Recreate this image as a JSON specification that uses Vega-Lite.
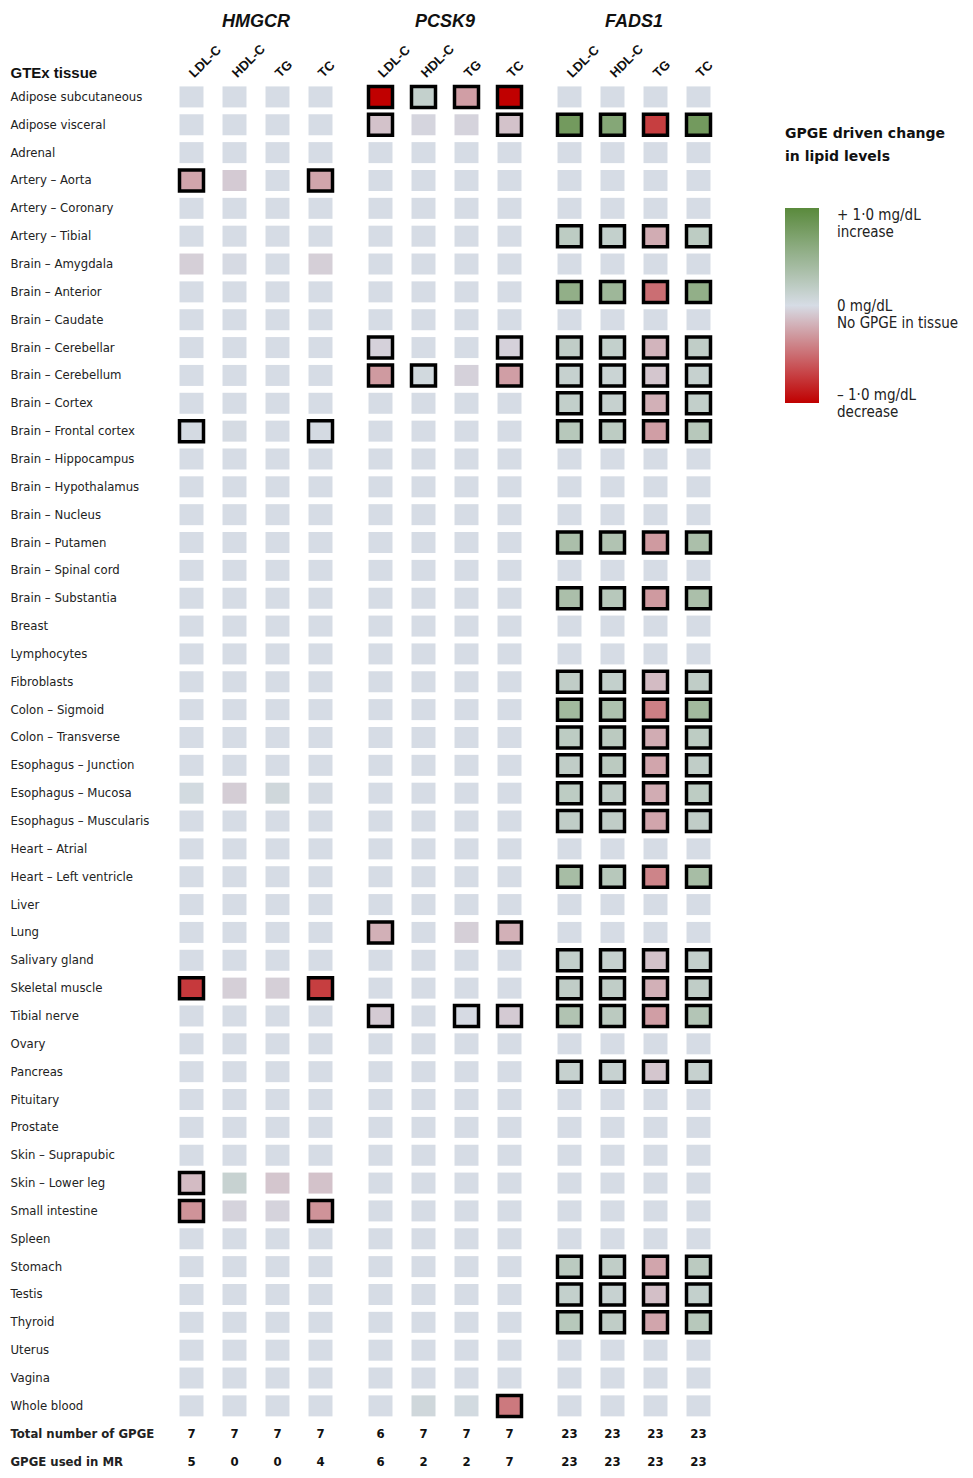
{
"$schema": "https://vega.github.io/schema/vega-lite/v6.json",
"background": "white",
"padding": {"left": 10, "top": 13, "right": 0, "bottom": 0},
"data": {"values": [
{"tissue":"Adipose subcutaneous","gene":"HMGCR","lipid":"LDL-C","value":0},
{"tissue":"Adipose subcutaneous","gene":"HMGCR","lipid":"HDL-C","value":0},
{"tissue":"Adipose subcutaneous","gene":"HMGCR","lipid":"TG","value":0},
{"tissue":"Adipose subcutaneous","gene":"HMGCR","lipid":"TC","value":0},
{"tissue":"Adipose subcutaneous","gene":"PCSK9","lipid":"LDL-C","value":-1,"mr":1},
{"tissue":"Adipose subcutaneous","gene":"PCSK9","lipid":"HDL-C","value":0.15,"mr":1},
{"tissue":"Adipose subcutaneous","gene":"PCSK9","lipid":"TG","value":-0.28,"mr":1},
{"tissue":"Adipose subcutaneous","gene":"PCSK9","lipid":"TC","value":-1,"mr":1},
{"tissue":"Adipose subcutaneous","gene":"FADS1","lipid":"LDL-C","value":0},
{"tissue":"Adipose subcutaneous","gene":"FADS1","lipid":"HDL-C","value":0},
{"tissue":"Adipose subcutaneous","gene":"FADS1","lipid":"TG","value":0},
{"tissue":"Adipose subcutaneous","gene":"FADS1","lipid":"TC","value":0},
{"tissue":"Adipose visceral","gene":"HMGCR","lipid":"LDL-C","value":0},
{"tissue":"Adipose visceral","gene":"HMGCR","lipid":"HDL-C","value":0},
{"tissue":"Adipose visceral","gene":"HMGCR","lipid":"TG","value":0},
{"tissue":"Adipose visceral","gene":"HMGCR","lipid":"TC","value":0},
{"tissue":"Adipose visceral","gene":"PCSK9","lipid":"LDL-C","value":-0.12,"mr":1},
{"tissue":"Adipose visceral","gene":"PCSK9","lipid":"HDL-C","value":-0.03},
{"tissue":"Adipose visceral","gene":"PCSK9","lipid":"TG","value":-0.04},
{"tissue":"Adipose visceral","gene":"PCSK9","lipid":"TC","value":-0.12,"mr":1},
{"tissue":"Adipose visceral","gene":"FADS1","lipid":"LDL-C","value":0.8,"mr":1},
{"tissue":"Adipose visceral","gene":"FADS1","lipid":"HDL-C","value":0.65,"mr":1},
{"tissue":"Adipose visceral","gene":"FADS1","lipid":"TG","value":-0.72,"mr":1},
{"tissue":"Adipose visceral","gene":"FADS1","lipid":"TC","value":0.8,"mr":1},
{"tissue":"Adrenal","gene":"HMGCR","lipid":"LDL-C","value":0},
{"tissue":"Adrenal","gene":"HMGCR","lipid":"HDL-C","value":0},
{"tissue":"Adrenal","gene":"HMGCR","lipid":"TG","value":0},
{"tissue":"Adrenal","gene":"HMGCR","lipid":"TC","value":0},
{"tissue":"Adrenal","gene":"PCSK9","lipid":"LDL-C","value":0},
{"tissue":"Adrenal","gene":"PCSK9","lipid":"HDL-C","value":0},
{"tissue":"Adrenal","gene":"PCSK9","lipid":"TG","value":0},
{"tissue":"Adrenal","gene":"PCSK9","lipid":"TC","value":0},
{"tissue":"Adrenal","gene":"FADS1","lipid":"LDL-C","value":0},
{"tissue":"Adrenal","gene":"FADS1","lipid":"HDL-C","value":0},
{"tissue":"Adrenal","gene":"FADS1","lipid":"TG","value":0},
{"tissue":"Adrenal","gene":"FADS1","lipid":"TC","value":0},
{"tissue":"Artery – Aorta","gene":"HMGCR","lipid":"LDL-C","value":-0.25,"mr":1},
{"tissue":"Artery – Aorta","gene":"HMGCR","lipid":"HDL-C","value":-0.08},
{"tissue":"Artery – Aorta","gene":"HMGCR","lipid":"TG","value":0},
{"tissue":"Artery – Aorta","gene":"HMGCR","lipid":"TC","value":-0.25,"mr":1},
{"tissue":"Artery – Aorta","gene":"PCSK9","lipid":"LDL-C","value":0},
{"tissue":"Artery – Aorta","gene":"PCSK9","lipid":"HDL-C","value":0},
{"tissue":"Artery – Aorta","gene":"PCSK9","lipid":"TG","value":0},
{"tissue":"Artery – Aorta","gene":"PCSK9","lipid":"TC","value":0},
{"tissue":"Artery – Aorta","gene":"FADS1","lipid":"LDL-C","value":0},
{"tissue":"Artery – Aorta","gene":"FADS1","lipid":"HDL-C","value":0},
{"tissue":"Artery – Aorta","gene":"FADS1","lipid":"TG","value":0},
{"tissue":"Artery – Aorta","gene":"FADS1","lipid":"TC","value":0},
{"tissue":"Artery – Coronary","gene":"HMGCR","lipid":"LDL-C","value":0},
{"tissue":"Artery – Coronary","gene":"HMGCR","lipid":"HDL-C","value":0},
{"tissue":"Artery – Coronary","gene":"HMGCR","lipid":"TG","value":0},
{"tissue":"Artery – Coronary","gene":"HMGCR","lipid":"TC","value":0},
{"tissue":"Artery – Coronary","gene":"PCSK9","lipid":"LDL-C","value":0},
{"tissue":"Artery – Coronary","gene":"PCSK9","lipid":"HDL-C","value":0},
{"tissue":"Artery – Coronary","gene":"PCSK9","lipid":"TG","value":0},
{"tissue":"Artery – Coronary","gene":"PCSK9","lipid":"TC","value":0},
{"tissue":"Artery – Coronary","gene":"FADS1","lipid":"LDL-C","value":0},
{"tissue":"Artery – Coronary","gene":"FADS1","lipid":"HDL-C","value":0},
{"tissue":"Artery – Coronary","gene":"FADS1","lipid":"TG","value":0},
{"tissue":"Artery – Coronary","gene":"FADS1","lipid":"TC","value":0},
{"tissue":"Artery – Tibial","gene":"HMGCR","lipid":"LDL-C","value":0},
{"tissue":"Artery – Tibial","gene":"HMGCR","lipid":"HDL-C","value":0},
{"tissue":"Artery – Tibial","gene":"HMGCR","lipid":"TG","value":0},
{"tissue":"Artery – Tibial","gene":"HMGCR","lipid":"TC","value":0},
{"tissue":"Artery – Tibial","gene":"PCSK9","lipid":"LDL-C","value":0},
{"tissue":"Artery – Tibial","gene":"PCSK9","lipid":"HDL-C","value":0},
{"tissue":"Artery – Tibial","gene":"PCSK9","lipid":"TG","value":0},
{"tissue":"Artery – Tibial","gene":"PCSK9","lipid":"TC","value":0},
{"tissue":"Artery – Tibial","gene":"FADS1","lipid":"LDL-C","value":0.2,"mr":1},
{"tissue":"Artery – Tibial","gene":"FADS1","lipid":"HDL-C","value":0.15,"mr":1},
{"tissue":"Artery – Tibial","gene":"FADS1","lipid":"TG","value":-0.22,"mr":1},
{"tissue":"Artery – Tibial","gene":"FADS1","lipid":"TC","value":0.2,"mr":1},
{"tissue":"Brain – Amygdala","gene":"HMGCR","lipid":"LDL-C","value":-0.06},
{"tissue":"Brain – Amygdala","gene":"HMGCR","lipid":"HDL-C","value":-0.01},
{"tissue":"Brain – Amygdala","gene":"HMGCR","lipid":"TG","value":0},
{"tissue":"Brain – Amygdala","gene":"HMGCR","lipid":"TC","value":-0.06},
{"tissue":"Brain – Amygdala","gene":"PCSK9","lipid":"LDL-C","value":0},
{"tissue":"Brain – Amygdala","gene":"PCSK9","lipid":"HDL-C","value":0},
{"tissue":"Brain – Amygdala","gene":"PCSK9","lipid":"TG","value":0},
{"tissue":"Brain – Amygdala","gene":"PCSK9","lipid":"TC","value":0},
{"tissue":"Brain – Amygdala","gene":"FADS1","lipid":"LDL-C","value":0},
{"tissue":"Brain – Amygdala","gene":"FADS1","lipid":"HDL-C","value":0},
{"tissue":"Brain – Amygdala","gene":"FADS1","lipid":"TG","value":0},
{"tissue":"Brain – Amygdala","gene":"FADS1","lipid":"TC","value":0},
{"tissue":"Brain – Anterior","gene":"HMGCR","lipid":"LDL-C","value":0},
{"tissue":"Brain – Anterior","gene":"HMGCR","lipid":"HDL-C","value":0},
{"tissue":"Brain – Anterior","gene":"HMGCR","lipid":"TG","value":0},
{"tissue":"Brain – Anterior","gene":"HMGCR","lipid":"TC","value":0},
{"tissue":"Brain – Anterior","gene":"PCSK9","lipid":"LDL-C","value":0},
{"tissue":"Brain – Anterior","gene":"PCSK9","lipid":"HDL-C","value":0},
{"tissue":"Brain – Anterior","gene":"PCSK9","lipid":"TG","value":0},
{"tissue":"Brain – Anterior","gene":"PCSK9","lipid":"TC","value":0},
{"tissue":"Brain – Anterior","gene":"FADS1","lipid":"LDL-C","value":0.55,"mr":1},
{"tissue":"Brain – Anterior","gene":"FADS1","lipid":"HDL-C","value":0.45,"mr":1},
{"tissue":"Brain – Anterior","gene":"FADS1","lipid":"TG","value":-0.5,"mr":1},
{"tissue":"Brain – Anterior","gene":"FADS1","lipid":"TC","value":0.55,"mr":1},
{"tissue":"Brain – Caudate","gene":"HMGCR","lipid":"LDL-C","value":0},
{"tissue":"Brain – Caudate","gene":"HMGCR","lipid":"HDL-C","value":0},
{"tissue":"Brain – Caudate","gene":"HMGCR","lipid":"TG","value":0},
{"tissue":"Brain – Caudate","gene":"HMGCR","lipid":"TC","value":0},
{"tissue":"Brain – Caudate","gene":"PCSK9","lipid":"LDL-C","value":0},
{"tissue":"Brain – Caudate","gene":"PCSK9","lipid":"HDL-C","value":0},
{"tissue":"Brain – Caudate","gene":"PCSK9","lipid":"TG","value":0},
{"tissue":"Brain – Caudate","gene":"PCSK9","lipid":"TC","value":0},
{"tissue":"Brain – Caudate","gene":"FADS1","lipid":"LDL-C","value":0},
{"tissue":"Brain – Caudate","gene":"FADS1","lipid":"HDL-C","value":0},
{"tissue":"Brain – Caudate","gene":"FADS1","lipid":"TG","value":0},
{"tissue":"Brain – Caudate","gene":"FADS1","lipid":"TC","value":0},
{"tissue":"Brain – Cerebellar","gene":"HMGCR","lipid":"LDL-C","value":0},
{"tissue":"Brain – Cerebellar","gene":"HMGCR","lipid":"HDL-C","value":0},
{"tissue":"Brain – Cerebellar","gene":"HMGCR","lipid":"TG","value":0},
{"tissue":"Brain – Cerebellar","gene":"HMGCR","lipid":"TC","value":0},
{"tissue":"Brain – Cerebellar","gene":"PCSK9","lipid":"LDL-C","value":-0.05,"mr":1},
{"tissue":"Brain – Cerebellar","gene":"PCSK9","lipid":"HDL-C","value":0},
{"tissue":"Brain – Cerebellar","gene":"PCSK9","lipid":"TG","value":0},
{"tissue":"Brain – Cerebellar","gene":"PCSK9","lipid":"TC","value":-0.05,"mr":1},
{"tissue":"Brain – Cerebellar","gene":"FADS1","lipid":"LDL-C","value":0.18,"mr":1},
{"tissue":"Brain – Cerebellar","gene":"FADS1","lipid":"HDL-C","value":0.15,"mr":1},
{"tissue":"Brain – Cerebellar","gene":"FADS1","lipid":"TG","value":-0.18,"mr":1},
{"tissue":"Brain – Cerebellar","gene":"FADS1","lipid":"TC","value":0.18,"mr":1},
{"tissue":"Brain – Cerebellum","gene":"HMGCR","lipid":"LDL-C","value":0},
{"tissue":"Brain – Cerebellum","gene":"HMGCR","lipid":"HDL-C","value":0},
{"tissue":"Brain – Cerebellum","gene":"HMGCR","lipid":"TG","value":0},
{"tissue":"Brain – Cerebellum","gene":"HMGCR","lipid":"TC","value":0},
{"tissue":"Brain – Cerebellum","gene":"PCSK9","lipid":"LDL-C","value":-0.3,"mr":1},
{"tissue":"Brain – Cerebellum","gene":"PCSK9","lipid":"HDL-C","value":0.04,"mr":1},
{"tissue":"Brain – Cerebellum","gene":"PCSK9","lipid":"TG","value":-0.05},
{"tissue":"Brain – Cerebellum","gene":"PCSK9","lipid":"TC","value":-0.28,"mr":1},
{"tissue":"Brain – Cerebellum","gene":"FADS1","lipid":"LDL-C","value":0.13,"mr":1},
{"tissue":"Brain – Cerebellum","gene":"FADS1","lipid":"HDL-C","value":0.1,"mr":1},
{"tissue":"Brain – Cerebellum","gene":"FADS1","lipid":"TG","value":-0.1,"mr":1},
{"tissue":"Brain – Cerebellum","gene":"FADS1","lipid":"TC","value":0.13,"mr":1},
{"tissue":"Brain – Cortex","gene":"HMGCR","lipid":"LDL-C","value":0},
{"tissue":"Brain – Cortex","gene":"HMGCR","lipid":"HDL-C","value":0},
{"tissue":"Brain – Cortex","gene":"HMGCR","lipid":"TG","value":0},
{"tissue":"Brain – Cortex","gene":"HMGCR","lipid":"TC","value":0},
{"tissue":"Brain – Cortex","gene":"PCSK9","lipid":"LDL-C","value":0},
{"tissue":"Brain – Cortex","gene":"PCSK9","lipid":"HDL-C","value":0},
{"tissue":"Brain – Cortex","gene":"PCSK9","lipid":"TG","value":0},
{"tissue":"Brain – Cortex","gene":"PCSK9","lipid":"TC","value":0},
{"tissue":"Brain – Cortex","gene":"FADS1","lipid":"LDL-C","value":0.16,"mr":1},
{"tissue":"Brain – Cortex","gene":"FADS1","lipid":"HDL-C","value":0.13,"mr":1},
{"tissue":"Brain – Cortex","gene":"FADS1","lipid":"TG","value":-0.2,"mr":1},
{"tissue":"Brain – Cortex","gene":"FADS1","lipid":"TC","value":0.16,"mr":1},
{"tissue":"Brain – Frontal cortex","gene":"HMGCR","lipid":"LDL-C","value":0.02,"mr":1},
{"tissue":"Brain – Frontal cortex","gene":"HMGCR","lipid":"HDL-C","value":0.01},
{"tissue":"Brain – Frontal cortex","gene":"HMGCR","lipid":"TG","value":0},
{"tissue":"Brain – Frontal cortex","gene":"HMGCR","lipid":"TC","value":0.02,"mr":1},
{"tissue":"Brain – Frontal cortex","gene":"PCSK9","lipid":"LDL-C","value":0},
{"tissue":"Brain – Frontal cortex","gene":"PCSK9","lipid":"HDL-C","value":0},
{"tissue":"Brain – Frontal cortex","gene":"PCSK9","lipid":"TG","value":0},
{"tissue":"Brain – Frontal cortex","gene":"PCSK9","lipid":"TC","value":0},
{"tissue":"Brain – Frontal cortex","gene":"FADS1","lipid":"LDL-C","value":0.25,"mr":1},
{"tissue":"Brain – Frontal cortex","gene":"FADS1","lipid":"HDL-C","value":0.2,"mr":1},
{"tissue":"Brain – Frontal cortex","gene":"FADS1","lipid":"TG","value":-0.28,"mr":1},
{"tissue":"Brain – Frontal cortex","gene":"FADS1","lipid":"TC","value":0.25,"mr":1},
{"tissue":"Brain – Hippocampus","gene":"HMGCR","lipid":"LDL-C","value":0},
{"tissue":"Brain – Hippocampus","gene":"HMGCR","lipid":"HDL-C","value":0},
{"tissue":"Brain – Hippocampus","gene":"HMGCR","lipid":"TG","value":0},
{"tissue":"Brain – Hippocampus","gene":"HMGCR","lipid":"TC","value":0},
{"tissue":"Brain – Hippocampus","gene":"PCSK9","lipid":"LDL-C","value":0},
{"tissue":"Brain – Hippocampus","gene":"PCSK9","lipid":"HDL-C","value":0},
{"tissue":"Brain – Hippocampus","gene":"PCSK9","lipid":"TG","value":0},
{"tissue":"Brain – Hippocampus","gene":"PCSK9","lipid":"TC","value":0},
{"tissue":"Brain – Hippocampus","gene":"FADS1","lipid":"LDL-C","value":0},
{"tissue":"Brain – Hippocampus","gene":"FADS1","lipid":"HDL-C","value":0},
{"tissue":"Brain – Hippocampus","gene":"FADS1","lipid":"TG","value":0},
{"tissue":"Brain – Hippocampus","gene":"FADS1","lipid":"TC","value":0},
{"tissue":"Brain – Hypothalamus","gene":"HMGCR","lipid":"LDL-C","value":0},
{"tissue":"Brain – Hypothalamus","gene":"HMGCR","lipid":"HDL-C","value":0},
{"tissue":"Brain – Hypothalamus","gene":"HMGCR","lipid":"TG","value":0},
{"tissue":"Brain – Hypothalamus","gene":"HMGCR","lipid":"TC","value":0},
{"tissue":"Brain – Hypothalamus","gene":"PCSK9","lipid":"LDL-C","value":0},
{"tissue":"Brain – Hypothalamus","gene":"PCSK9","lipid":"HDL-C","value":0},
{"tissue":"Brain – Hypothalamus","gene":"PCSK9","lipid":"TG","value":0},
{"tissue":"Brain – Hypothalamus","gene":"PCSK9","lipid":"TC","value":0},
{"tissue":"Brain – Hypothalamus","gene":"FADS1","lipid":"LDL-C","value":0},
{"tissue":"Brain – Hypothalamus","gene":"FADS1","lipid":"HDL-C","value":0},
{"tissue":"Brain – Hypothalamus","gene":"FADS1","lipid":"TG","value":0},
{"tissue":"Brain – Hypothalamus","gene":"FADS1","lipid":"TC","value":0},
{"tissue":"Brain – Nucleus","gene":"HMGCR","lipid":"LDL-C","value":0},
{"tissue":"Brain – Nucleus","gene":"HMGCR","lipid":"HDL-C","value":0},
{"tissue":"Brain – Nucleus","gene":"HMGCR","lipid":"TG","value":0},
{"tissue":"Brain – Nucleus","gene":"HMGCR","lipid":"TC","value":0},
{"tissue":"Brain – Nucleus","gene":"PCSK9","lipid":"LDL-C","value":0},
{"tissue":"Brain – Nucleus","gene":"PCSK9","lipid":"HDL-C","value":0},
{"tissue":"Brain – Nucleus","gene":"PCSK9","lipid":"TG","value":0},
{"tissue":"Brain – Nucleus","gene":"PCSK9","lipid":"TC","value":0},
{"tissue":"Brain – Nucleus","gene":"FADS1","lipid":"LDL-C","value":0},
{"tissue":"Brain – Nucleus","gene":"FADS1","lipid":"HDL-C","value":0},
{"tissue":"Brain – Nucleus","gene":"FADS1","lipid":"TG","value":0},
{"tissue":"Brain – Nucleus","gene":"FADS1","lipid":"TC","value":0},
{"tissue":"Brain – Putamen","gene":"HMGCR","lipid":"LDL-C","value":0},
{"tissue":"Brain – Putamen","gene":"HMGCR","lipid":"HDL-C","value":0},
{"tissue":"Brain – Putamen","gene":"HMGCR","lipid":"TG","value":0},
{"tissue":"Brain – Putamen","gene":"HMGCR","lipid":"TC","value":0},
{"tissue":"Brain – Putamen","gene":"PCSK9","lipid":"LDL-C","value":0},
{"tissue":"Brain – Putamen","gene":"PCSK9","lipid":"HDL-C","value":0},
{"tissue":"Brain – Putamen","gene":"PCSK9","lipid":"TG","value":0},
{"tissue":"Brain – Putamen","gene":"PCSK9","lipid":"TC","value":0},
{"tissue":"Brain – Putamen","gene":"FADS1","lipid":"LDL-C","value":0.35,"mr":1},
{"tissue":"Brain – Putamen","gene":"FADS1","lipid":"HDL-C","value":0.3,"mr":1},
{"tissue":"Brain – Putamen","gene":"FADS1","lipid":"TG","value":-0.3,"mr":1},
{"tissue":"Brain – Putamen","gene":"FADS1","lipid":"TC","value":0.35,"mr":1},
{"tissue":"Brain – Spinal cord","gene":"HMGCR","lipid":"LDL-C","value":0},
{"tissue":"Brain – Spinal cord","gene":"HMGCR","lipid":"HDL-C","value":0},
{"tissue":"Brain – Spinal cord","gene":"HMGCR","lipid":"TG","value":0},
{"tissue":"Brain – Spinal cord","gene":"HMGCR","lipid":"TC","value":0},
{"tissue":"Brain – Spinal cord","gene":"PCSK9","lipid":"LDL-C","value":0},
{"tissue":"Brain – Spinal cord","gene":"PCSK9","lipid":"HDL-C","value":0},
{"tissue":"Brain – Spinal cord","gene":"PCSK9","lipid":"TG","value":0},
{"tissue":"Brain – Spinal cord","gene":"PCSK9","lipid":"TC","value":0},
{"tissue":"Brain – Spinal cord","gene":"FADS1","lipid":"LDL-C","value":0},
{"tissue":"Brain – Spinal cord","gene":"FADS1","lipid":"HDL-C","value":0},
{"tissue":"Brain – Spinal cord","gene":"FADS1","lipid":"TG","value":0},
{"tissue":"Brain – Spinal cord","gene":"FADS1","lipid":"TC","value":0},
{"tissue":"Brain – Substantia","gene":"HMGCR","lipid":"LDL-C","value":0},
{"tissue":"Brain – Substantia","gene":"HMGCR","lipid":"HDL-C","value":0},
{"tissue":"Brain – Substantia","gene":"HMGCR","lipid":"TG","value":0},
{"tissue":"Brain – Substantia","gene":"HMGCR","lipid":"TC","value":0},
{"tissue":"Brain – Substantia","gene":"PCSK9","lipid":"LDL-C","value":0},
{"tissue":"Brain – Substantia","gene":"PCSK9","lipid":"HDL-C","value":0},
{"tissue":"Brain – Substantia","gene":"PCSK9","lipid":"TG","value":0},
{"tissue":"Brain – Substantia","gene":"PCSK9","lipid":"TC","value":0},
{"tissue":"Brain – Substantia","gene":"FADS1","lipid":"LDL-C","value":0.35,"mr":1},
{"tissue":"Brain – Substantia","gene":"FADS1","lipid":"HDL-C","value":0.25,"mr":1},
{"tissue":"Brain – Substantia","gene":"FADS1","lipid":"TG","value":-0.3,"mr":1},
{"tissue":"Brain – Substantia","gene":"FADS1","lipid":"TC","value":0.35,"mr":1},
{"tissue":"Breast","gene":"HMGCR","lipid":"LDL-C","value":0},
{"tissue":"Breast","gene":"HMGCR","lipid":"HDL-C","value":0},
{"tissue":"Breast","gene":"HMGCR","lipid":"TG","value":0},
{"tissue":"Breast","gene":"HMGCR","lipid":"TC","value":0},
{"tissue":"Breast","gene":"PCSK9","lipid":"LDL-C","value":0},
{"tissue":"Breast","gene":"PCSK9","lipid":"HDL-C","value":0},
{"tissue":"Breast","gene":"PCSK9","lipid":"TG","value":0},
{"tissue":"Breast","gene":"PCSK9","lipid":"TC","value":0},
{"tissue":"Breast","gene":"FADS1","lipid":"LDL-C","value":0},
{"tissue":"Breast","gene":"FADS1","lipid":"HDL-C","value":0},
{"tissue":"Breast","gene":"FADS1","lipid":"TG","value":0},
{"tissue":"Breast","gene":"FADS1","lipid":"TC","value":0},
{"tissue":"Lymphocytes","gene":"HMGCR","lipid":"LDL-C","value":0},
{"tissue":"Lymphocytes","gene":"HMGCR","lipid":"HDL-C","value":0},
{"tissue":"Lymphocytes","gene":"HMGCR","lipid":"TG","value":0},
{"tissue":"Lymphocytes","gene":"HMGCR","lipid":"TC","value":0},
{"tissue":"Lymphocytes","gene":"PCSK9","lipid":"LDL-C","value":0},
{"tissue":"Lymphocytes","gene":"PCSK9","lipid":"HDL-C","value":0},
{"tissue":"Lymphocytes","gene":"PCSK9","lipid":"TG","value":0},
{"tissue":"Lymphocytes","gene":"PCSK9","lipid":"TC","value":0},
{"tissue":"Lymphocytes","gene":"FADS1","lipid":"LDL-C","value":0},
{"tissue":"Lymphocytes","gene":"FADS1","lipid":"HDL-C","value":0},
{"tissue":"Lymphocytes","gene":"FADS1","lipid":"TG","value":0},
{"tissue":"Lymphocytes","gene":"FADS1","lipid":"TC","value":0},
{"tissue":"Fibroblasts","gene":"HMGCR","lipid":"LDL-C","value":0},
{"tissue":"Fibroblasts","gene":"HMGCR","lipid":"HDL-C","value":0},
{"tissue":"Fibroblasts","gene":"HMGCR","lipid":"TG","value":0},
{"tissue":"Fibroblasts","gene":"HMGCR","lipid":"TC","value":0},
{"tissue":"Fibroblasts","gene":"PCSK9","lipid":"LDL-C","value":0},
{"tissue":"Fibroblasts","gene":"PCSK9","lipid":"HDL-C","value":0},
{"tissue":"Fibroblasts","gene":"PCSK9","lipid":"TG","value":0},
{"tissue":"Fibroblasts","gene":"PCSK9","lipid":"TC","value":0},
{"tissue":"Fibroblasts","gene":"FADS1","lipid":"LDL-C","value":0.18,"mr":1},
{"tissue":"Fibroblasts","gene":"FADS1","lipid":"HDL-C","value":0.15,"mr":1},
{"tissue":"Fibroblasts","gene":"FADS1","lipid":"TG","value":-0.15,"mr":1},
{"tissue":"Fibroblasts","gene":"FADS1","lipid":"TC","value":0.18,"mr":1},
{"tissue":"Colon – Sigmoid","gene":"HMGCR","lipid":"LDL-C","value":0},
{"tissue":"Colon – Sigmoid","gene":"HMGCR","lipid":"HDL-C","value":0},
{"tissue":"Colon – Sigmoid","gene":"HMGCR","lipid":"TG","value":0},
{"tissue":"Colon – Sigmoid","gene":"HMGCR","lipid":"TC","value":0},
{"tissue":"Colon – Sigmoid","gene":"PCSK9","lipid":"LDL-C","value":0},
{"tissue":"Colon – Sigmoid","gene":"PCSK9","lipid":"HDL-C","value":0},
{"tissue":"Colon – Sigmoid","gene":"PCSK9","lipid":"TG","value":0},
{"tissue":"Colon – Sigmoid","gene":"PCSK9","lipid":"TC","value":0},
{"tissue":"Colon – Sigmoid","gene":"FADS1","lipid":"LDL-C","value":0.42,"mr":1},
{"tissue":"Colon – Sigmoid","gene":"FADS1","lipid":"HDL-C","value":0.32,"mr":1},
{"tissue":"Colon – Sigmoid","gene":"FADS1","lipid":"TG","value":-0.42,"mr":1},
{"tissue":"Colon – Sigmoid","gene":"FADS1","lipid":"TC","value":0.42,"mr":1},
{"tissue":"Colon – Transverse","gene":"HMGCR","lipid":"LDL-C","value":0},
{"tissue":"Colon – Transverse","gene":"HMGCR","lipid":"HDL-C","value":0},
{"tissue":"Colon – Transverse","gene":"HMGCR","lipid":"TG","value":0},
{"tissue":"Colon – Transverse","gene":"HMGCR","lipid":"TC","value":0},
{"tissue":"Colon – Transverse","gene":"PCSK9","lipid":"LDL-C","value":0},
{"tissue":"Colon – Transverse","gene":"PCSK9","lipid":"HDL-C","value":0},
{"tissue":"Colon – Transverse","gene":"PCSK9","lipid":"TG","value":0},
{"tissue":"Colon – Transverse","gene":"PCSK9","lipid":"TC","value":0},
{"tissue":"Colon – Transverse","gene":"FADS1","lipid":"LDL-C","value":0.2,"mr":1},
{"tissue":"Colon – Transverse","gene":"FADS1","lipid":"HDL-C","value":0.22,"mr":1},
{"tissue":"Colon – Transverse","gene":"FADS1","lipid":"TG","value":-0.22,"mr":1},
{"tissue":"Colon – Transverse","gene":"FADS1","lipid":"TC","value":0.2,"mr":1},
{"tissue":"Esophagus – Junction","gene":"HMGCR","lipid":"LDL-C","value":0},
{"tissue":"Esophagus – Junction","gene":"HMGCR","lipid":"HDL-C","value":0},
{"tissue":"Esophagus – Junction","gene":"HMGCR","lipid":"TG","value":0},
{"tissue":"Esophagus – Junction","gene":"HMGCR","lipid":"TC","value":0},
{"tissue":"Esophagus – Junction","gene":"PCSK9","lipid":"LDL-C","value":0},
{"tissue":"Esophagus – Junction","gene":"PCSK9","lipid":"HDL-C","value":0},
{"tissue":"Esophagus – Junction","gene":"PCSK9","lipid":"TG","value":0},
{"tissue":"Esophagus – Junction","gene":"PCSK9","lipid":"TC","value":0},
{"tissue":"Esophagus – Junction","gene":"FADS1","lipid":"LDL-C","value":0.18,"mr":1},
{"tissue":"Esophagus – Junction","gene":"FADS1","lipid":"HDL-C","value":0.22,"mr":1},
{"tissue":"Esophagus – Junction","gene":"FADS1","lipid":"TG","value":-0.25,"mr":1},
{"tissue":"Esophagus – Junction","gene":"FADS1","lipid":"TC","value":0.18,"mr":1},
{"tissue":"Esophagus – Mucosa","gene":"HMGCR","lipid":"LDL-C","value":0.03},
{"tissue":"Esophagus – Mucosa","gene":"HMGCR","lipid":"HDL-C","value":-0.07},
{"tissue":"Esophagus – Mucosa","gene":"HMGCR","lipid":"TG","value":0.06},
{"tissue":"Esophagus – Mucosa","gene":"HMGCR","lipid":"TC","value":0.01},
{"tissue":"Esophagus – Mucosa","gene":"PCSK9","lipid":"LDL-C","value":0},
{"tissue":"Esophagus – Mucosa","gene":"PCSK9","lipid":"HDL-C","value":0},
{"tissue":"Esophagus – Mucosa","gene":"PCSK9","lipid":"TG","value":0},
{"tissue":"Esophagus – Mucosa","gene":"PCSK9","lipid":"TC","value":0},
{"tissue":"Esophagus – Mucosa","gene":"FADS1","lipid":"LDL-C","value":0.2,"mr":1},
{"tissue":"Esophagus – Mucosa","gene":"FADS1","lipid":"HDL-C","value":0.18,"mr":1},
{"tissue":"Esophagus – Mucosa","gene":"FADS1","lipid":"TG","value":-0.22,"mr":1},
{"tissue":"Esophagus – Mucosa","gene":"FADS1","lipid":"TC","value":0.2,"mr":1},
{"tissue":"Esophagus – Muscularis","gene":"HMGCR","lipid":"LDL-C","value":0},
{"tissue":"Esophagus – Muscularis","gene":"HMGCR","lipid":"HDL-C","value":0},
{"tissue":"Esophagus – Muscularis","gene":"HMGCR","lipid":"TG","value":0},
{"tissue":"Esophagus – Muscularis","gene":"HMGCR","lipid":"TC","value":0},
{"tissue":"Esophagus – Muscularis","gene":"PCSK9","lipid":"LDL-C","value":0},
{"tissue":"Esophagus – Muscularis","gene":"PCSK9","lipid":"HDL-C","value":0},
{"tissue":"Esophagus – Muscularis","gene":"PCSK9","lipid":"TG","value":0},
{"tissue":"Esophagus – Muscularis","gene":"PCSK9","lipid":"TC","value":0},
{"tissue":"Esophagus – Muscularis","gene":"FADS1","lipid":"LDL-C","value":0.18,"mr":1},
{"tissue":"Esophagus – Muscularis","gene":"FADS1","lipid":"HDL-C","value":0.18,"mr":1},
{"tissue":"Esophagus – Muscularis","gene":"FADS1","lipid":"TG","value":-0.25,"mr":1},
{"tissue":"Esophagus – Muscularis","gene":"FADS1","lipid":"TC","value":0.18,"mr":1},
{"tissue":"Heart – Atrial","gene":"HMGCR","lipid":"LDL-C","value":0},
{"tissue":"Heart – Atrial","gene":"HMGCR","lipid":"HDL-C","value":0},
{"tissue":"Heart – Atrial","gene":"HMGCR","lipid":"TG","value":0},
{"tissue":"Heart – Atrial","gene":"HMGCR","lipid":"TC","value":0},
{"tissue":"Heart – Atrial","gene":"PCSK9","lipid":"LDL-C","value":0},
{"tissue":"Heart – Atrial","gene":"PCSK9","lipid":"HDL-C","value":0},
{"tissue":"Heart – Atrial","gene":"PCSK9","lipid":"TG","value":0},
{"tissue":"Heart – Atrial","gene":"PCSK9","lipid":"TC","value":0},
{"tissue":"Heart – Atrial","gene":"FADS1","lipid":"LDL-C","value":0},
{"tissue":"Heart – Atrial","gene":"FADS1","lipid":"HDL-C","value":0},
{"tissue":"Heart – Atrial","gene":"FADS1","lipid":"TG","value":0},
{"tissue":"Heart – Atrial","gene":"FADS1","lipid":"TC","value":0},
{"tissue":"Heart – Left ventricle","gene":"HMGCR","lipid":"LDL-C","value":0},
{"tissue":"Heart – Left ventricle","gene":"HMGCR","lipid":"HDL-C","value":0},
{"tissue":"Heart – Left ventricle","gene":"HMGCR","lipid":"TG","value":0},
{"tissue":"Heart – Left ventricle","gene":"HMGCR","lipid":"TC","value":0},
{"tissue":"Heart – Left ventricle","gene":"PCSK9","lipid":"LDL-C","value":0},
{"tissue":"Heart – Left ventricle","gene":"PCSK9","lipid":"HDL-C","value":0},
{"tissue":"Heart – Left ventricle","gene":"PCSK9","lipid":"TG","value":0},
{"tissue":"Heart – Left ventricle","gene":"PCSK9","lipid":"TC","value":0},
{"tissue":"Heart – Left ventricle","gene":"FADS1","lipid":"LDL-C","value":0.38,"mr":1},
{"tissue":"Heart – Left ventricle","gene":"FADS1","lipid":"HDL-C","value":0.25,"mr":1},
{"tissue":"Heart – Left ventricle","gene":"FADS1","lipid":"TG","value":-0.4,"mr":1},
{"tissue":"Heart – Left ventricle","gene":"FADS1","lipid":"TC","value":0.38,"mr":1},
{"tissue":"Liver","gene":"HMGCR","lipid":"LDL-C","value":0},
{"tissue":"Liver","gene":"HMGCR","lipid":"HDL-C","value":0},
{"tissue":"Liver","gene":"HMGCR","lipid":"TG","value":0},
{"tissue":"Liver","gene":"HMGCR","lipid":"TC","value":0},
{"tissue":"Liver","gene":"PCSK9","lipid":"LDL-C","value":0},
{"tissue":"Liver","gene":"PCSK9","lipid":"HDL-C","value":0},
{"tissue":"Liver","gene":"PCSK9","lipid":"TG","value":0},
{"tissue":"Liver","gene":"PCSK9","lipid":"TC","value":0},
{"tissue":"Liver","gene":"FADS1","lipid":"LDL-C","value":0},
{"tissue":"Liver","gene":"FADS1","lipid":"HDL-C","value":0},
{"tissue":"Liver","gene":"FADS1","lipid":"TG","value":0},
{"tissue":"Liver","gene":"FADS1","lipid":"TC","value":0},
{"tissue":"Lung","gene":"HMGCR","lipid":"LDL-C","value":0},
{"tissue":"Lung","gene":"HMGCR","lipid":"HDL-C","value":0},
{"tissue":"Lung","gene":"HMGCR","lipid":"TG","value":0},
{"tissue":"Lung","gene":"HMGCR","lipid":"TC","value":0},
{"tissue":"Lung","gene":"PCSK9","lipid":"LDL-C","value":-0.2,"mr":1},
{"tissue":"Lung","gene":"PCSK9","lipid":"HDL-C","value":0},
{"tissue":"Lung","gene":"PCSK9","lipid":"TG","value":-0.06},
{"tissue":"Lung","gene":"PCSK9","lipid":"TC","value":-0.2,"mr":1},
{"tissue":"Lung","gene":"FADS1","lipid":"LDL-C","value":0},
{"tissue":"Lung","gene":"FADS1","lipid":"HDL-C","value":0},
{"tissue":"Lung","gene":"FADS1","lipid":"TG","value":0},
{"tissue":"Lung","gene":"FADS1","lipid":"TC","value":0},
{"tissue":"Salivary gland","gene":"HMGCR","lipid":"LDL-C","value":0},
{"tissue":"Salivary gland","gene":"HMGCR","lipid":"HDL-C","value":0},
{"tissue":"Salivary gland","gene":"HMGCR","lipid":"TG","value":0},
{"tissue":"Salivary gland","gene":"HMGCR","lipid":"TC","value":0},
{"tissue":"Salivary gland","gene":"PCSK9","lipid":"LDL-C","value":0},
{"tissue":"Salivary gland","gene":"PCSK9","lipid":"HDL-C","value":0},
{"tissue":"Salivary gland","gene":"PCSK9","lipid":"TG","value":0},
{"tissue":"Salivary gland","gene":"PCSK9","lipid":"TC","value":0},
{"tissue":"Salivary gland","gene":"FADS1","lipid":"LDL-C","value":0.15,"mr":1},
{"tissue":"Salivary gland","gene":"FADS1","lipid":"HDL-C","value":0.13,"mr":1},
{"tissue":"Salivary gland","gene":"FADS1","lipid":"TG","value":-0.12,"mr":1},
{"tissue":"Salivary gland","gene":"FADS1","lipid":"TC","value":0.15,"mr":1},
{"tissue":"Skeletal muscle","gene":"HMGCR","lipid":"LDL-C","value":-0.74,"mr":1},
{"tissue":"Skeletal muscle","gene":"HMGCR","lipid":"HDL-C","value":-0.06},
{"tissue":"Skeletal muscle","gene":"HMGCR","lipid":"TG","value":-0.06},
{"tissue":"Skeletal muscle","gene":"HMGCR","lipid":"TC","value":-0.72,"mr":1},
{"tissue":"Skeletal muscle","gene":"PCSK9","lipid":"LDL-C","value":0},
{"tissue":"Skeletal muscle","gene":"PCSK9","lipid":"HDL-C","value":0},
{"tissue":"Skeletal muscle","gene":"PCSK9","lipid":"TG","value":0},
{"tissue":"Skeletal muscle","gene":"PCSK9","lipid":"TC","value":0},
{"tissue":"Skeletal muscle","gene":"FADS1","lipid":"LDL-C","value":0.18,"mr":1},
{"tissue":"Skeletal muscle","gene":"FADS1","lipid":"HDL-C","value":0.18,"mr":1},
{"tissue":"Skeletal muscle","gene":"FADS1","lipid":"TG","value":-0.2,"mr":1},
{"tissue":"Skeletal muscle","gene":"FADS1","lipid":"TC","value":0.18,"mr":1},
{"tissue":"Tibial nerve","gene":"HMGCR","lipid":"LDL-C","value":0},
{"tissue":"Tibial nerve","gene":"HMGCR","lipid":"HDL-C","value":0},
{"tissue":"Tibial nerve","gene":"HMGCR","lipid":"TG","value":0},
{"tissue":"Tibial nerve","gene":"HMGCR","lipid":"TC","value":0},
{"tissue":"Tibial nerve","gene":"PCSK9","lipid":"LDL-C","value":-0.08,"mr":1},
{"tissue":"Tibial nerve","gene":"PCSK9","lipid":"HDL-C","value":0},
{"tissue":"Tibial nerve","gene":"PCSK9","lipid":"TG","value":-0.01,"mr":1},
{"tissue":"Tibial nerve","gene":"PCSK9","lipid":"TC","value":-0.08,"mr":1},
{"tissue":"Tibial nerve","gene":"FADS1","lipid":"LDL-C","value":0.3,"mr":1},
{"tissue":"Tibial nerve","gene":"FADS1","lipid":"HDL-C","value":0.22,"mr":1},
{"tissue":"Tibial nerve","gene":"FADS1","lipid":"TG","value":-0.28,"mr":1},
{"tissue":"Tibial nerve","gene":"FADS1","lipid":"TC","value":0.28,"mr":1},
{"tissue":"Ovary","gene":"HMGCR","lipid":"LDL-C","value":0},
{"tissue":"Ovary","gene":"HMGCR","lipid":"HDL-C","value":0},
{"tissue":"Ovary","gene":"HMGCR","lipid":"TG","value":0},
{"tissue":"Ovary","gene":"HMGCR","lipid":"TC","value":0},
{"tissue":"Ovary","gene":"PCSK9","lipid":"LDL-C","value":0},
{"tissue":"Ovary","gene":"PCSK9","lipid":"HDL-C","value":0},
{"tissue":"Ovary","gene":"PCSK9","lipid":"TG","value":0},
{"tissue":"Ovary","gene":"PCSK9","lipid":"TC","value":0},
{"tissue":"Ovary","gene":"FADS1","lipid":"LDL-C","value":0},
{"tissue":"Ovary","gene":"FADS1","lipid":"HDL-C","value":0},
{"tissue":"Ovary","gene":"FADS1","lipid":"TG","value":0},
{"tissue":"Ovary","gene":"FADS1","lipid":"TC","value":0},
{"tissue":"Pancreas","gene":"HMGCR","lipid":"LDL-C","value":0},
{"tissue":"Pancreas","gene":"HMGCR","lipid":"HDL-C","value":0},
{"tissue":"Pancreas","gene":"HMGCR","lipid":"TG","value":0},
{"tissue":"Pancreas","gene":"HMGCR","lipid":"TC","value":0},
{"tissue":"Pancreas","gene":"PCSK9","lipid":"LDL-C","value":0},
{"tissue":"Pancreas","gene":"PCSK9","lipid":"HDL-C","value":0},
{"tissue":"Pancreas","gene":"PCSK9","lipid":"TG","value":0},
{"tissue":"Pancreas","gene":"PCSK9","lipid":"TC","value":0},
{"tissue":"Pancreas","gene":"FADS1","lipid":"LDL-C","value":0.13,"mr":1},
{"tissue":"Pancreas","gene":"FADS1","lipid":"HDL-C","value":0.12,"mr":1},
{"tissue":"Pancreas","gene":"FADS1","lipid":"TG","value":-0.1,"mr":1},
{"tissue":"Pancreas","gene":"FADS1","lipid":"TC","value":0.13,"mr":1},
{"tissue":"Pituitary","gene":"HMGCR","lipid":"LDL-C","value":0},
{"tissue":"Pituitary","gene":"HMGCR","lipid":"HDL-C","value":0},
{"tissue":"Pituitary","gene":"HMGCR","lipid":"TG","value":0},
{"tissue":"Pituitary","gene":"HMGCR","lipid":"TC","value":0},
{"tissue":"Pituitary","gene":"PCSK9","lipid":"LDL-C","value":0},
{"tissue":"Pituitary","gene":"PCSK9","lipid":"HDL-C","value":0},
{"tissue":"Pituitary","gene":"PCSK9","lipid":"TG","value":0},
{"tissue":"Pituitary","gene":"PCSK9","lipid":"TC","value":0},
{"tissue":"Pituitary","gene":"FADS1","lipid":"LDL-C","value":0},
{"tissue":"Pituitary","gene":"FADS1","lipid":"HDL-C","value":0},
{"tissue":"Pituitary","gene":"FADS1","lipid":"TG","value":0},
{"tissue":"Pituitary","gene":"FADS1","lipid":"TC","value":0},
{"tissue":"Prostate","gene":"HMGCR","lipid":"LDL-C","value":0},
{"tissue":"Prostate","gene":"HMGCR","lipid":"HDL-C","value":0},
{"tissue":"Prostate","gene":"HMGCR","lipid":"TG","value":0},
{"tissue":"Prostate","gene":"HMGCR","lipid":"TC","value":0},
{"tissue":"Prostate","gene":"PCSK9","lipid":"LDL-C","value":0},
{"tissue":"Prostate","gene":"PCSK9","lipid":"HDL-C","value":0},
{"tissue":"Prostate","gene":"PCSK9","lipid":"TG","value":0},
{"tissue":"Prostate","gene":"PCSK9","lipid":"TC","value":0},
{"tissue":"Prostate","gene":"FADS1","lipid":"LDL-C","value":0},
{"tissue":"Prostate","gene":"FADS1","lipid":"HDL-C","value":0},
{"tissue":"Prostate","gene":"FADS1","lipid":"TG","value":0},
{"tissue":"Prostate","gene":"FADS1","lipid":"TC","value":0},
{"tissue":"Skin – Suprapubic","gene":"HMGCR","lipid":"LDL-C","value":0},
{"tissue":"Skin – Suprapubic","gene":"HMGCR","lipid":"HDL-C","value":0},
{"tissue":"Skin – Suprapubic","gene":"HMGCR","lipid":"TG","value":0},
{"tissue":"Skin – Suprapubic","gene":"HMGCR","lipid":"TC","value":0},
{"tissue":"Skin – Suprapubic","gene":"PCSK9","lipid":"LDL-C","value":0},
{"tissue":"Skin – Suprapubic","gene":"PCSK9","lipid":"HDL-C","value":0},
{"tissue":"Skin – Suprapubic","gene":"PCSK9","lipid":"TG","value":0},
{"tissue":"Skin – Suprapubic","gene":"PCSK9","lipid":"TC","value":0},
{"tissue":"Skin – Suprapubic","gene":"FADS1","lipid":"LDL-C","value":0},
{"tissue":"Skin – Suprapubic","gene":"FADS1","lipid":"HDL-C","value":0},
{"tissue":"Skin – Suprapubic","gene":"FADS1","lipid":"TG","value":0},
{"tissue":"Skin – Suprapubic","gene":"FADS1","lipid":"TC","value":0},
{"tissue":"Skin – Lower leg","gene":"HMGCR","lipid":"LDL-C","value":-0.15,"mr":1},
{"tissue":"Skin – Lower leg","gene":"HMGCR","lipid":"HDL-C","value":0.12},
{"tissue":"Skin – Lower leg","gene":"HMGCR","lipid":"TG","value":-0.1},
{"tissue":"Skin – Lower leg","gene":"HMGCR","lipid":"TC","value":-0.12},
{"tissue":"Skin – Lower leg","gene":"PCSK9","lipid":"LDL-C","value":0},
{"tissue":"Skin – Lower leg","gene":"PCSK9","lipid":"HDL-C","value":0},
{"tissue":"Skin – Lower leg","gene":"PCSK9","lipid":"TG","value":0},
{"tissue":"Skin – Lower leg","gene":"PCSK9","lipid":"TC","value":0},
{"tissue":"Skin – Lower leg","gene":"FADS1","lipid":"LDL-C","value":0},
{"tissue":"Skin – Lower leg","gene":"FADS1","lipid":"HDL-C","value":0},
{"tissue":"Skin – Lower leg","gene":"FADS1","lipid":"TG","value":0},
{"tissue":"Skin – Lower leg","gene":"FADS1","lipid":"TC","value":0},
{"tissue":"Small intestine","gene":"HMGCR","lipid":"LDL-C","value":-0.33,"mr":1},
{"tissue":"Small intestine","gene":"HMGCR","lipid":"HDL-C","value":-0.04},
{"tissue":"Small intestine","gene":"HMGCR","lipid":"TG","value":-0.04},
{"tissue":"Small intestine","gene":"HMGCR","lipid":"TC","value":-0.33,"mr":1},
{"tissue":"Small intestine","gene":"PCSK9","lipid":"LDL-C","value":0},
{"tissue":"Small intestine","gene":"PCSK9","lipid":"HDL-C","value":0},
{"tissue":"Small intestine","gene":"PCSK9","lipid":"TG","value":0},
{"tissue":"Small intestine","gene":"PCSK9","lipid":"TC","value":0},
{"tissue":"Small intestine","gene":"FADS1","lipid":"LDL-C","value":0},
{"tissue":"Small intestine","gene":"FADS1","lipid":"HDL-C","value":0},
{"tissue":"Small intestine","gene":"FADS1","lipid":"TG","value":0},
{"tissue":"Small intestine","gene":"FADS1","lipid":"TC","value":0},
{"tissue":"Spleen","gene":"HMGCR","lipid":"LDL-C","value":0},
{"tissue":"Spleen","gene":"HMGCR","lipid":"HDL-C","value":0},
{"tissue":"Spleen","gene":"HMGCR","lipid":"TG","value":0},
{"tissue":"Spleen","gene":"HMGCR","lipid":"TC","value":0},
{"tissue":"Spleen","gene":"PCSK9","lipid":"LDL-C","value":0},
{"tissue":"Spleen","gene":"PCSK9","lipid":"HDL-C","value":0},
{"tissue":"Spleen","gene":"PCSK9","lipid":"TG","value":0},
{"tissue":"Spleen","gene":"PCSK9","lipid":"TC","value":0},
{"tissue":"Spleen","gene":"FADS1","lipid":"LDL-C","value":0},
{"tissue":"Spleen","gene":"FADS1","lipid":"HDL-C","value":0},
{"tissue":"Spleen","gene":"FADS1","lipid":"TG","value":0},
{"tissue":"Spleen","gene":"FADS1","lipid":"TC","value":0},
{"tissue":"Stomach","gene":"HMGCR","lipid":"LDL-C","value":0},
{"tissue":"Stomach","gene":"HMGCR","lipid":"HDL-C","value":0},
{"tissue":"Stomach","gene":"HMGCR","lipid":"TG","value":0},
{"tissue":"Stomach","gene":"HMGCR","lipid":"TC","value":0},
{"tissue":"Stomach","gene":"PCSK9","lipid":"LDL-C","value":0},
{"tissue":"Stomach","gene":"PCSK9","lipid":"HDL-C","value":0},
{"tissue":"Stomach","gene":"PCSK9","lipid":"TG","value":0},
{"tissue":"Stomach","gene":"PCSK9","lipid":"TC","value":0},
{"tissue":"Stomach","gene":"FADS1","lipid":"LDL-C","value":0.22,"mr":1},
{"tissue":"Stomach","gene":"FADS1","lipid":"HDL-C","value":0.18,"mr":1},
{"tissue":"Stomach","gene":"FADS1","lipid":"TG","value":-0.25,"mr":1},
{"tissue":"Stomach","gene":"FADS1","lipid":"TC","value":0.22,"mr":1},
{"tissue":"Testis","gene":"HMGCR","lipid":"LDL-C","value":0},
{"tissue":"Testis","gene":"HMGCR","lipid":"HDL-C","value":0},
{"tissue":"Testis","gene":"HMGCR","lipid":"TG","value":0},
{"tissue":"Testis","gene":"HMGCR","lipid":"TC","value":0},
{"tissue":"Testis","gene":"PCSK9","lipid":"LDL-C","value":0},
{"tissue":"Testis","gene":"PCSK9","lipid":"HDL-C","value":0},
{"tissue":"Testis","gene":"PCSK9","lipid":"TG","value":0},
{"tissue":"Testis","gene":"PCSK9","lipid":"TC","value":0},
{"tissue":"Testis","gene":"FADS1","lipid":"LDL-C","value":0.15,"mr":1},
{"tissue":"Testis","gene":"FADS1","lipid":"HDL-C","value":0.12,"mr":1},
{"tissue":"Testis","gene":"FADS1","lipid":"TG","value":-0.13,"mr":1},
{"tissue":"Testis","gene":"FADS1","lipid":"TC","value":0.15,"mr":1},
{"tissue":"Thyroid","gene":"HMGCR","lipid":"LDL-C","value":0},
{"tissue":"Thyroid","gene":"HMGCR","lipid":"HDL-C","value":0},
{"tissue":"Thyroid","gene":"HMGCR","lipid":"TG","value":0},
{"tissue":"Thyroid","gene":"HMGCR","lipid":"TC","value":0},
{"tissue":"Thyroid","gene":"PCSK9","lipid":"LDL-C","value":0},
{"tissue":"Thyroid","gene":"PCSK9","lipid":"HDL-C","value":0},
{"tissue":"Thyroid","gene":"PCSK9","lipid":"TG","value":0},
{"tissue":"Thyroid","gene":"PCSK9","lipid":"TC","value":0},
{"tissue":"Thyroid","gene":"FADS1","lipid":"LDL-C","value":0.25,"mr":1},
{"tissue":"Thyroid","gene":"FADS1","lipid":"HDL-C","value":0.18,"mr":1},
{"tissue":"Thyroid","gene":"FADS1","lipid":"TG","value":-0.25,"mr":1},
{"tissue":"Thyroid","gene":"FADS1","lipid":"TC","value":0.25,"mr":1},
{"tissue":"Uterus","gene":"HMGCR","lipid":"LDL-C","value":0},
{"tissue":"Uterus","gene":"HMGCR","lipid":"HDL-C","value":0},
{"tissue":"Uterus","gene":"HMGCR","lipid":"TG","value":0},
{"tissue":"Uterus","gene":"HMGCR","lipid":"TC","value":0},
{"tissue":"Uterus","gene":"PCSK9","lipid":"LDL-C","value":0},
{"tissue":"Uterus","gene":"PCSK9","lipid":"HDL-C","value":0},
{"tissue":"Uterus","gene":"PCSK9","lipid":"TG","value":0},
{"tissue":"Uterus","gene":"PCSK9","lipid":"TC","value":0},
{"tissue":"Uterus","gene":"FADS1","lipid":"LDL-C","value":0},
{"tissue":"Uterus","gene":"FADS1","lipid":"HDL-C","value":0},
{"tissue":"Uterus","gene":"FADS1","lipid":"TG","value":0},
{"tissue":"Uterus","gene":"FADS1","lipid":"TC","value":0},
{"tissue":"Vagina","gene":"HMGCR","lipid":"LDL-C","value":0},
{"tissue":"Vagina","gene":"HMGCR","lipid":"HDL-C","value":0},
{"tissue":"Vagina","gene":"HMGCR","lipid":"TG","value":0},
{"tissue":"Vagina","gene":"HMGCR","lipid":"TC","value":0},
{"tissue":"Vagina","gene":"PCSK9","lipid":"LDL-C","value":0},
{"tissue":"Vagina","gene":"PCSK9","lipid":"HDL-C","value":0},
{"tissue":"Vagina","gene":"PCSK9","lipid":"TG","value":0},
{"tissue":"Vagina","gene":"PCSK9","lipid":"TC","value":0},
{"tissue":"Vagina","gene":"FADS1","lipid":"LDL-C","value":0},
{"tissue":"Vagina","gene":"FADS1","lipid":"HDL-C","value":0},
{"tissue":"Vagina","gene":"FADS1","lipid":"TG","value":0},
{"tissue":"Vagina","gene":"FADS1","lipid":"TC","value":0},
{"tissue":"Whole blood","gene":"HMGCR","lipid":"LDL-C","value":0},
{"tissue":"Whole blood","gene":"HMGCR","lipid":"HDL-C","value":0},
{"tissue":"Whole blood","gene":"HMGCR","lipid":"TG","value":0},
{"tissue":"Whole blood","gene":"HMGCR","lipid":"TC","value":0},
{"tissue":"Whole blood","gene":"PCSK9","lipid":"LDL-C","value":0},
{"tissue":"Whole blood","gene":"PCSK9","lipid":"HDL-C","value":0.06},
{"tissue":"Whole blood","gene":"PCSK9","lipid":"TG","value":0.03},
{"tissue":"Whole blood","gene":"PCSK9","lipid":"TC","value":-0.45,"mr":1},
{"tissue":"Whole blood","gene":"FADS1","lipid":"LDL-C","value":0},
{"tissue":"Whole blood","gene":"FADS1","lipid":"HDL-C","value":0},
{"tissue":"Whole blood","gene":"FADS1","lipid":"TG","value":0},
{"tissue":"Whole blood","gene":"FADS1","lipid":"TC","value":0},
{"tissue":"Total number of GPGE","gene":"HMGCR","lipid":"LDL-C","count":7},
{"tissue":"Total number of GPGE","gene":"HMGCR","lipid":"HDL-C","count":7},
{"tissue":"Total number of GPGE","gene":"HMGCR","lipid":"TG","count":7},
{"tissue":"Total number of GPGE","gene":"HMGCR","lipid":"TC","count":7},
{"tissue":"Total number of GPGE","gene":"PCSK9","lipid":"LDL-C","count":6},
{"tissue":"Total number of GPGE","gene":"PCSK9","lipid":"HDL-C","count":7},
{"tissue":"Total number of GPGE","gene":"PCSK9","lipid":"TG","count":7},
{"tissue":"Total number of GPGE","gene":"PCSK9","lipid":"TC","count":7},
{"tissue":"Total number of GPGE","gene":"FADS1","lipid":"LDL-C","count":23},
{"tissue":"Total number of GPGE","gene":"FADS1","lipid":"HDL-C","count":23},
{"tissue":"Total number of GPGE","gene":"FADS1","lipid":"TG","count":23},
{"tissue":"Total number of GPGE","gene":"FADS1","lipid":"TC","count":23},
{"tissue":"GPGE used in MR","gene":"HMGCR","lipid":"LDL-C","count":5},
{"tissue":"GPGE used in MR","gene":"HMGCR","lipid":"HDL-C","count":0},
{"tissue":"GPGE used in MR","gene":"HMGCR","lipid":"TG","count":0},
{"tissue":"GPGE used in MR","gene":"HMGCR","lipid":"TC","count":4},
{"tissue":"GPGE used in MR","gene":"PCSK9","lipid":"LDL-C","count":6},
{"tissue":"GPGE used in MR","gene":"PCSK9","lipid":"HDL-C","count":2},
{"tissue":"GPGE used in MR","gene":"PCSK9","lipid":"TG","count":2},
{"tissue":"GPGE used in MR","gene":"PCSK9","lipid":"TC","count":7},
{"tissue":"GPGE used in MR","gene":"FADS1","lipid":"LDL-C","count":23},
{"tissue":"GPGE used in MR","gene":"FADS1","lipid":"HDL-C","count":23},
{"tissue":"GPGE used in MR","gene":"FADS1","lipid":"TG","count":23},
{"tissue":"GPGE used in MR","gene":"FADS1","lipid":"TC","count":23}
]},
"facet": {"column": {"field": "gene", "type": "nominal", "sort": ["HMGCR","PCSK9","FADS1"],
  "header": {"title": null, "labelFont": "Liberation Sans", "labelFontSize": 18, "labelFontWeight": "bold", "labelFontStyle": "italic", "labelColor": "#111", "labelPadding": 11}}},
"spacing": 17,
"spec": {
  "width": {"step": 43},
  "height": {"step": 27.85},
  "encoding": {
    "x": {"field": "lipid", "type": "nominal", "sort": ["LDL-C","HDL-C","TG","TC"],
      "scale": {"paddingInner": 0, "paddingOuter": 0},
      "axis": {"orient": "top", "title": null, "labelAngle": -45, "labelAlign": "left", "labelBaseline": "middle", "labelFont": "Liberation Sans", "labelFontWeight": "bold", "labelFontSize": 13, "labelColor": "#111", "domain": false, "ticks": false, "labelPadding": 8}},
    "y": {"field": "tissue", "type": "nominal",
      "sort": ["Adipose subcutaneous","Adipose visceral","Adrenal","Artery – Aorta","Artery – Coronary","Artery – Tibial","Brain – Amygdala","Brain – Anterior","Brain – Caudate","Brain – Cerebellar","Brain – Cerebellum","Brain – Cortex","Brain – Frontal cortex","Brain – Hippocampus","Brain – Hypothalamus","Brain – Nucleus","Brain – Putamen","Brain – Spinal cord","Brain – Substantia","Breast","Lymphocytes","Fibroblasts","Colon – Sigmoid","Colon – Transverse","Esophagus – Junction","Esophagus – Mucosa","Esophagus – Muscularis","Heart – Atrial","Heart – Left ventricle","Liver","Lung","Salivary gland","Skeletal muscle","Tibial nerve","Ovary","Pancreas","Pituitary","Prostate","Skin – Suprapubic","Skin – Lower leg","Small intestine","Spleen","Stomach","Testis","Thyroid","Uterus","Vagina","Whole blood","Total number of GPGE","GPGE used in MR"],
      "scale": {"paddingInner": 0, "paddingOuter": 0},
      "axis": {"title": "GTEx tissue", "titleAngle": 0, "titleAlign": "left", "titleBaseline": "middle", "titleX": -160, "titleY": -11, "titleFont": "Liberation Sans", "titleFontSize": 15, "titleFontWeight": "bold", "titleColor": "#111",
        "labelAlign": "left", "labelPadding": 160, "labelLimit": 200, "labelFont": "DejaVu Sans Condensed, Liberation Sans", "labelFontSize": 13, "labelColor": "#222",
        "labelFontWeight": {"condition": {"test": "datum.value == 'Total number of GPGE' || datum.value == 'GPGE used in MR'", "value": "bold"}, "value": "normal"},
        "domain": false, "ticks": false}}
  },
  "layer": [
    {"transform": [{"filter": "datum.count == null"}],
     "mark": {"type": "rect", "width": 24, "height": 21, "strokeWidth": 3.5},
     "encoding": {
       "color": {"field": "value", "type": "quantitative",
         "scale": {"domain": [-1, 0, 1], "range": ["#c00000", "#d6dce5", "#5a8a3c"], "interpolate": "rgb"},
         "legend": {"orient": "none", "legendX": 615, "legendY": 44, "direction": "vertical",
           "title": ["GPGE driven change", "in lipid levels"], "titleFont": "DejaVu Sans", "titleFontSize": 14, "titleFontWeight": "bold", "titleColor": "#111", "titleLineHeight": 23, "titlePadding": 44,
           "gradientLength": 195, "gradientThickness": 34, "gradientStrokeWidth": 0,
           "values": [-1, 0, 1],
           "labelExpr": "datum.value > 0.5 ? ['+ 1·0 mg/dL', '\u00a0\u00a0increase'] : (datum.value < -0.5 ? ['– 1·0 mg/dL', '\u00a0decrease'] : ['\u00a0\u00a0\u00a00 mg/dL', '\u00a0\u00a0\u00a0No GPGE in tissue'])",
           "labelFont": "DejaVu Sans Condensed, Liberation Sans", "labelFontSize": 15, "labelColor": "#222", "labelOffset": 18, "labelOverlap": false, "labelBaseline": "top", "labelLimit": 300}},
       "stroke": {"condition": {"test": "datum.mr == 1", "value": "#000"}, "value": null}
     }},
    {"transform": [{"filter": "datum.count != null"}],
     "mark": {"type": "text", "font": "DejaVu Sans Condensed, Liberation Sans", "fontWeight": "bold", "fontSize": 13, "color": "#111"},
     "encoding": {"text": {"field": "count", "type": "quantitative"}}}
  ]
},
"config": {"view": {"stroke": null}}
}
